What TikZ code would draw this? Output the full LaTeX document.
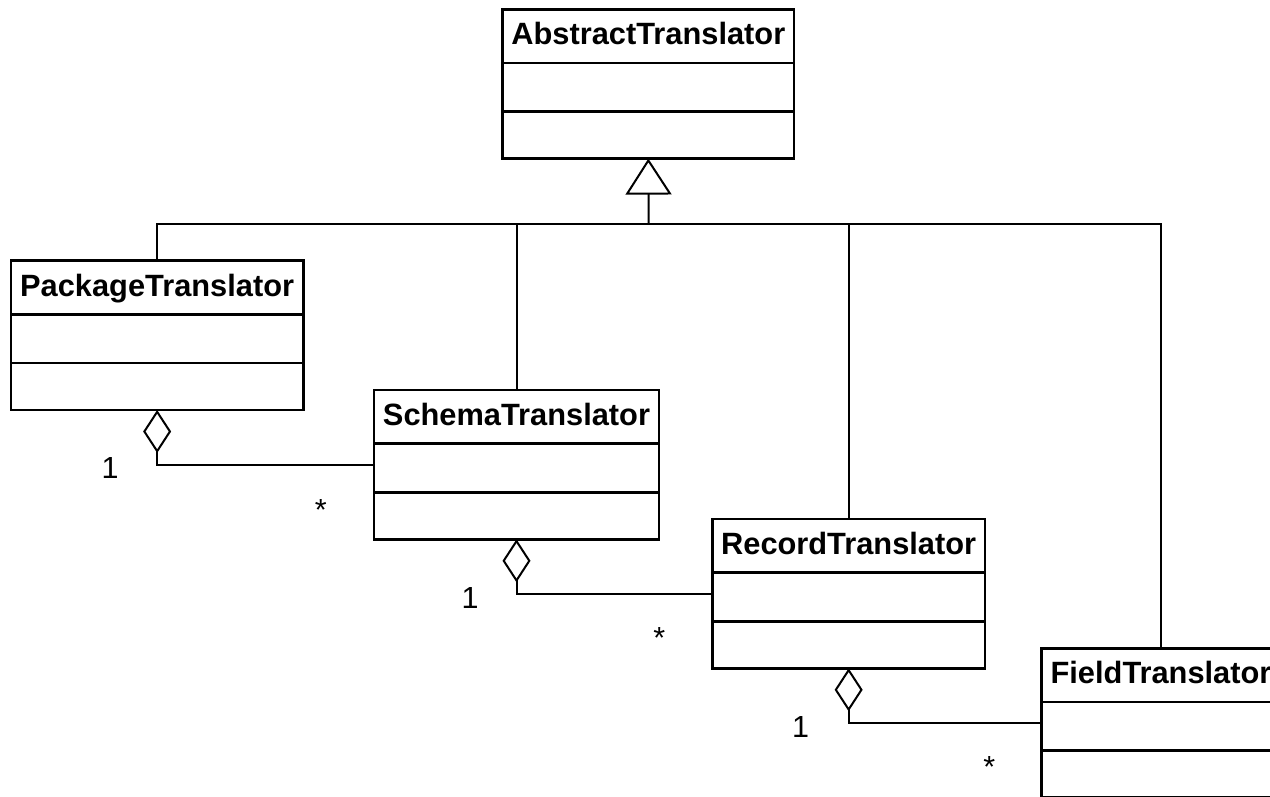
\documentclass[tikz,border=0pt]{standalone}
\usepackage{fontspec}
\setmainfont{Liberation Sans}
\usetikzlibrary{arrows.meta,calc}

\tikzset{
  classbox/.style={draw, line width=2.8pt, minimum height=149.3pt, inner sep=0pt,
                   outer sep=0pt, anchor=north west},
  classtitle/.style={anchor=base, inner sep=0pt, font=\fontsize{30.8}{36}\selectfont\bfseries},
  divider/.style={line width=2.8pt},
  mult/.style={inner sep=0pt, font=\fontsize{30.5}{36}\selectfont},
  link/.style={line width=2pt},
  generalization/.style={link, -{Triangle[open, length=36pt, width=46pt]}},
  aggregation/.style={link, -{Diamond[open, length=43pt, width=28pt]}},
}

% class box with a name compartment and two empty compartments
\newcommand\umlclass[5]{%
  \node[classbox, minimum width=#4pt] (#1) at (#2,#3) {};
  \node[classtitle] (#1-title) at ($(#1.north)+(0,35.5)$) {#5};
  \draw[divider] ($(#1.north west)+(0,53.7)$) -- ($(#1.north east)+(0,53.7)$);
  \draw[divider] ($(#1.north west)+(0,102.3)$) -- ($(#1.north east)+(0,102.3)$);
}

\begin{document}
\begin{tikzpicture}[x=1pt, y=-1pt]
  \useasboundingbox (0,0) rectangle (1270,796);
  \fill[white] (0,0) rectangle (1270,796);
  \clip (0,0) rectangle (1270,796);

  \umlclass{abs}{502.7}{9.3}{291.3}{AbstractTranslator}
  \umlclass{pkg}{11}{260.7}{292.3}{PackageTranslator}
  \umlclass{sch}{374}{390}{285}{SchemaTranslator}
  \umlclass{rec}{712.3}{519}{272.7}{RecordTranslator}
  \umlclass{fld}{1041.7}{648.3}{238.6}{FieldTranslator}

  % inheritance bus
  \coordinate (bus) at (648.7,224);
  \draw[link] (pkg.north) |- (bus) -| (fld.north);
  \draw[link] (sch.north) -- (sch.north |- bus);
  \draw[link] (rec.north) -- (rec.north |- bus);
  \draw[generalization] (bus) -- (abs.south);

  % aggregations
  \draw[aggregation] (sch.west) -| (pkg.south);
  \draw[aggregation] (rec.west) -| (sch.south);
  \draw[aggregation] (fld.west) -| (rec.south);

  % multiplicities
  \node[mult] (m1) at (110,468) {1};
  \node[mult] (m2) at (320.7,510) {*};
  \node[mult] (m3) at (470,597.5) {1};
  \node[mult] (m4) at (659.3,638.3) {*};
  \node[mult] (m5) at (800.7,727) {1};
  \node[mult] (m6) at (989.3,766.7) {*};
\end{tikzpicture}
\end{document}
